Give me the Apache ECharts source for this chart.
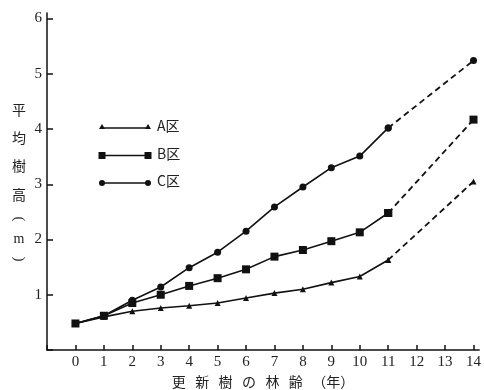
<!DOCTYPE html>
<html><head><meta charset="utf-8">
<script src="https://cdn.jsdelivr.net/npm/echarts@6/dist/echarts.min.js"></script>
<style>html,body{margin:0;padding:0;background:#fff}#c{width:484px;height:390px}</style>
</head><body><div id="c"></div>
<script>
const ages = [0,1,2,3,4,5,6,7,8,9,10,11];
const projAges = [11,14];
const seriesNames = ['A区','B区','C区'];
const aVals = [0.48,0.60,0.70,0.76,0.80,0.85,0.94,1.03,1.10,1.22,1.33,1.63];
const bVals = [0.48,0.62,0.85,1.00,1.16,1.30,1.46,1.69,1.81,1.97,2.13,2.48];
const cVals = [0.48,0.62,0.90,1.14,1.49,1.77,2.15,2.59,2.95,3.30,3.51,4.02];
const aProj = [1.63,3.05];
const bProj = [2.48,4.17];
const cProj = [4.02,5.24];
const xTicks = [0,1,2,3,4,5,6,7,8,9,10,11,12,13,14];
const yTicks = [1,2,3,4,5,6];

const symbols = ['triangle','rect','circle'];
const sizes = [6,8,7];
const solid = [aVals,bVals,cVals];
const proj = [aProj,bProj,cProj];
const series = [];
for (let i=0;i<3;i++){
  series.push({type:'line', name:seriesNames[i], data: ages.map((x,j)=>[x,solid[i][j]]),
    symbol:symbols[i], symbolSize:sizes[i], showSymbol:true,
    lineStyle:{color:'#111',width:1.6}, itemStyle:{color:'#111'}, z:3});
  series.push({type:'line', data: projAges.map((x,j)=>[x,proj[i][j]]),
    symbol:symbols[i], symbolSize:sizes[i],
    lineStyle:{color:'#111',width:1.8,type:[6,4]}, itemStyle:{color:'#111'}, z:3});
}
const chart = echarts.init(document.getElementById('c'));
const serif = 'Liberation Serif';
const legendG = [];
for (let i=0;i<3;i++){
  const y = 128 + i*27.5;
  legendG.push({type:'line', shape:{x1:102,y1:y,x2:148,y2:y}, style:{stroke:'#111',lineWidth:1.5}});
  [102,148].forEach(x=>{
    if (i===0) legendG.push({type:'polygon', shape:{points:[[x-3,y+1],[x+3,y+1],[x,y-4]]}, style:{fill:'#111'}});
    else if (i===1) legendG.push({type:'rect', shape:{x:x-3.5,y:y-3.5,width:7,height:7}, style:{fill:'#111'}});
    else legendG.push({type:'circle', shape:{cx:x,cy:y,r:3}, style:{fill:'#111'}});
  });
  legendG.push({type:'text', left:157, top:y-9, style:{text:seriesNames[i], fill:'#222', font:'14px "Noto Sans CJK JP"'}});
}
const yTitle = ['平','均','樹','高','(','m',')'];
const yTitleY = [110,138,166,195,219,239,259];
yTitle.forEach((t,k)=>{
  const isParen = (t==='(' || t===')');
  legendG.push({type:'text', x:19, y:yTitleY[k], rotation: isParen ? -Math.PI/2 : 0,
    style:{text:t, fill:'#222', font:(t==='m'?'14px "Liberation Serif"':(isParen?'15px "Liberation Serif"':'14px "Noto Sans CJK JP"')), align:'center', verticalAlign:'middle'}});
});
legendG.push({type:'text', x:263, y:382, style:{text:'更   新   樹   の   林   齢   （年）', fill:'#222', font:'14px "Noto Sans CJK JP"', align:'center', verticalAlign:'middle'}});

chart.setOption({
  animation:false,
  backgroundColor:'#fff',
  grid:{left:47, right:3.3, top:13, bottom:40},
  xAxis:{type:'value', min:-1, max:14.2, interval:1,
    axisLine:{show:true,onZero:false,lineStyle:{color:'#111',width:1.5}},
    axisTick:{show:true,inside:true,length:5,lineStyle:{color:'#111',width:1.5}},
    axisLabel:{color:'#222',fontFamily:serif,fontSize:15,margin:5,showMaxLabel:false,hideOverlap:false,
      formatter:v=> xTicks.includes(v)? String(v):''},
    splitLine:{show:false}},
  yAxis:{type:'value', min:0, max:6.1, interval:1,
    axisLine:{show:true,onZero:false,lineStyle:{color:'#111',width:1.5}},
    axisTick:{show:true,inside:true,length:6,lineStyle:{color:'#111',width:1.5}},
    axisLabel:{color:'#222',fontFamily:serif,fontSize:15,margin:5,showMaxLabel:false,hideOverlap:false,
      formatter:v=> yTicks.includes(v)? String(v):''},
    splitLine:{show:false}},
  series:series,
  graphic:legendG
});
</script></body></html>
